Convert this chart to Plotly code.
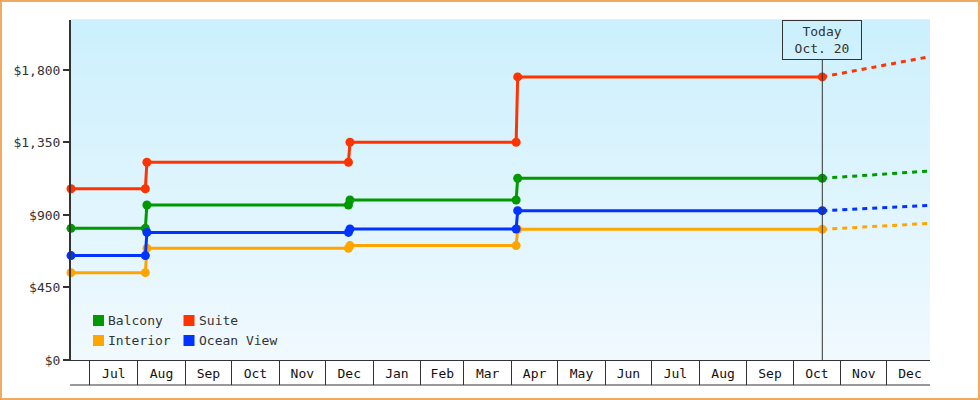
import plotly.graph_objects as go

# ---- data ----
dates = ["2022-06-18 16:00", "2022-08-06", "2022-08-07", "2022-12-16", "2022-12-17",
         "2023-04-04", "2023-04-05", "2023-10-20"]
proj_dates = ["2023-10-20", "2023-12-29"]

balcony = [817, 817, 962, 962, 993, 993, 1128, 1128]
suite = [1063, 1063, 1227, 1227, 1351, 1351, 1757, 1757]
interior = [542, 542, 693, 693, 710, 710, 811, 811]
ocean_view = [648, 648, 792, 792, 813, 813, 927, 927]

balcony_proj = [1128, 1173]
suite_proj = [1757, 1883]
interior_proj = [811, 848]
ocean_view_proj = [927, 960]

y_ticks = [0, 450, 900, 1350, 1800]
today = "2023-10-20"
today_label = "Today<br>Oct. 20"

series = [
    ("Balcony", balcony, balcony_proj, "#009900"),
    ("Suite", suite, suite_proj, "#ff3300"),
    ("Interior", interior, interior_proj, "#ffa500"),
    ("Ocean View", ocean_view, ocean_view_proj, "#0033ff"),
]

FONT = "DejaVu Sans Mono"
W, H = 980, 400
ML, MR, MT, MB = 71, 50, 20, 40
PW, PH = W - ML - MR, H - MT - MB

fig = go.Figure()

for name, vals, proj, col in series:
    fig.add_trace(go.Scatter(x=proj_dates, y=proj, mode="lines", name=name,
                             line=dict(color=col, width=3, dash="5px,5px"),
                             showlegend=False, hoverinfo="skip", cliponaxis=False))
for name, vals, proj, col in series:
    fig.add_trace(go.Scatter(x=dates, y=vals, mode="lines+markers", name=name,
                             line=dict(color=col, width=3),
                             marker=dict(color=col, size=9, symbol="circle"),
                             showlegend=False, cliponaxis=False))

shapes = []
# gradient background
top = (0xcc, 0xf0, 0xfd)
bot = (0xf0, 0xf9, 0xfe)
N = 60
for i in range(N):
    t = i / (N - 1)
    c = tuple(round(bot[k] + (top[k] - bot[k]) * t) for k in range(3))
    shapes.append(dict(type="rect", xref="x domain", yref="y domain",
                       x0=0, x1=1, y0=i / N, y1=(i + 1) / N + 0.002,
                       fillcolor="rgb(%d,%d,%d)" % c, line=dict(width=0),
                       layer="below"))
# today line
box_h = 40
shapes.append(dict(type="line", xref="x", yref="y domain", x0=today, x1=today,
                   y0=0, y1=(PH - box_h) / PH, line=dict(color="#333333", width=1)))
# bottom line of month band
shapes.append(dict(type="line", xref="x domain", yref="y domain", x0=-0.001, x1=1,
                   y0=-25 / PH, y1=-25 / PH, line=dict(color="#333333", width=1)))
# outer border
shapes.append(dict(type="rect", xref="paper", yref="paper",
                   x0=(-ML + 1) / PW, x1=(W - ML - 1) / PW,
                   y0=(-MB + 1) / PH, y1=(H - MB - 1) / PH,
                   line=dict(color="#efab62", width=2), fillcolor="rgba(0,0,0,0)"))

annotations = [dict(x=today, y=1, xref="x", yref="paper", text=today_label,
                    showarrow=False, xanchor="center", yanchor="top",
                    width=78, height=38, bordercolor="#333333", borderwidth=1,
                    borderpad=0, font=dict(family=FONT, size=13, color="#333333"))]

# legend (2 columns)
leg_x0 = [98.5 - ML, 189 - ML]
leg_y0 = [320.5, 340.5]
for idx, (name, vals, proj, col) in enumerate(series):
    cx = leg_x0[idx % 2]
    cy = leg_y0[idx // 2]
    shapes.append(dict(type="rect", xref="paper", yref="paper",
                       x0=(cx - 5.5) / PW, x1=(cx + 5.5) / PW,
                       y0=(H - MB - cy - 5.5) / PH, y1=(H - MB - cy + 5.5) / PH,
                       fillcolor=col, line=dict(width=0)))
    annotations.append(dict(x=(cx + 7.5) / PW, y=(H - MB - cy) / PH, xref="paper",
                            yref="paper", text=name, showarrow=False,
                            xanchor="left", yanchor="middle",
                            font=dict(family=FONT, size=13, color="#333333")))

fig.update_layout(
    width=W, height=H,
    margin=dict(l=ML, r=MR, t=MT, b=MB, pad=0),
    paper_bgcolor="white", plot_bgcolor="white",
    showlegend=False,
    font=dict(family=FONT, size=13, color="#333333"),
    shapes=shapes, annotations=annotations,
    xaxis=dict(type="date", range=["2022-06-18 16:00", "2023-12-29"],
               dtick="M1", tick0="2022-07-01", tickformat="%b",
               ticklabelmode="period", ticks="outside", ticklen=24,
               tickcolor="#333333", tickwidth=1,
               ticklabelstandoff=-23,
               showline=True, linecolor="#333333", linewidth=1,
               showgrid=False, zeroline=False,
               tickfont=dict(family=FONT, size=13, color="#111111")),
    yaxis=dict(range=[0, 2110], tickvals=y_ticks, tickformat="$,.0f",
               ticks="outside", ticklen=6, tickwidth=2, tickcolor="#333333",
               showline=True, linecolor="#333333", linewidth=2,
               showgrid=False, zeroline=False,
               tickfont=dict(family=FONT, size=13, color="#333333")),
)

fig.write_html("out.html", config={"displayModeBar": False},
               post_script="document.body.style.margin='0';document.body.style.overflow='hidden';")
